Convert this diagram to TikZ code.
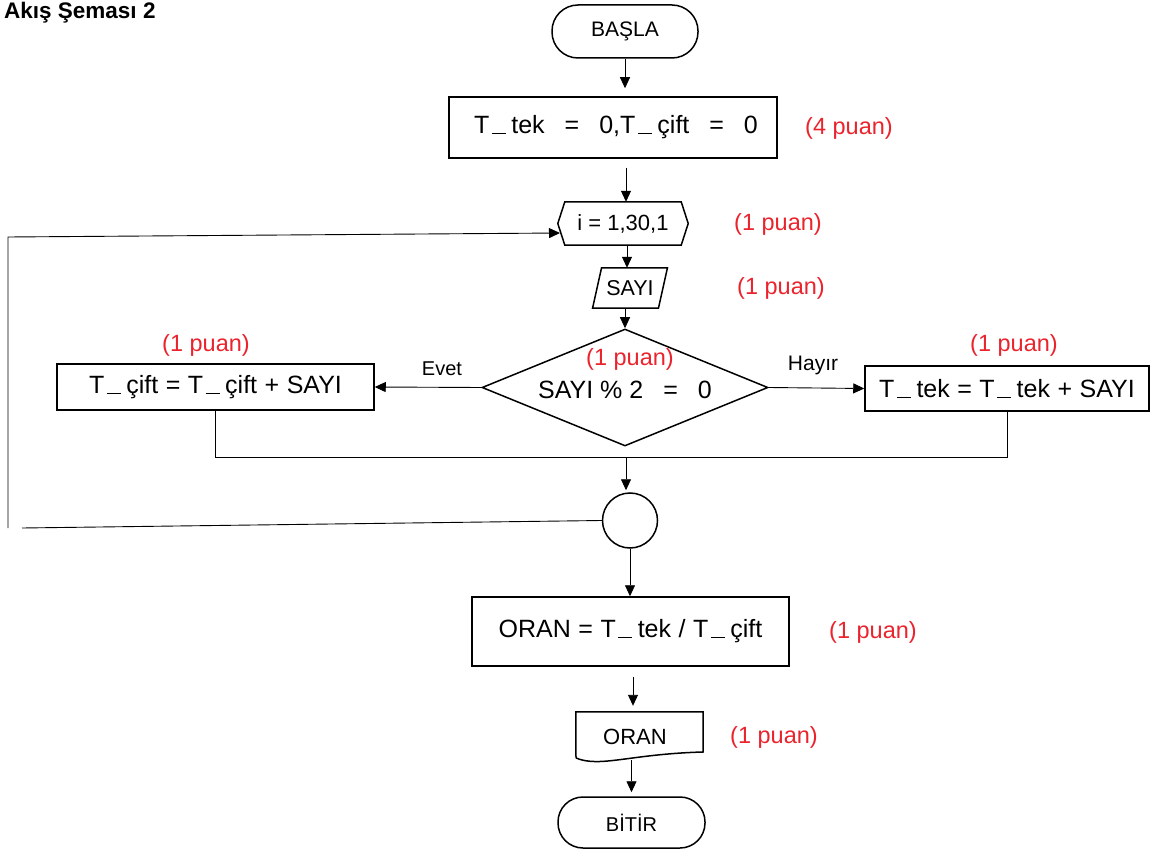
\documentclass[tikz,border=0pt]{standalone}
\usepackage{fontspec}
\setmainfont{Liberation Sans}
\usetikzlibrary{arrows.meta,shapes.geometric}
\definecolor{puan}{RGB}{235,35,45}
\newcommand\uscore{\hspace{.1em}\rule[-0.02em]{.56em}{.05em}\hspace{.22em}}
\newcommand\eqgap{\hspace{.3em}}
\begin{document}
\begin{tikzpicture}[x=1pt,y=-1pt,
  box/.style={draw, line width=1.5pt, inner sep=0pt},
  shapeline/.style={draw, line width=1.5pt, line join=miter},
  conn/.style={line width=0.9pt, -{Triangle[length=11pt,width=10pt]}},
  plain/.style={line width=0.9pt},
  pts/.style={text=puan, inner sep=0pt, font=\fontsize{23.5}{28}\selectfont},
  lbl/.style={inner sep=0pt, font=\fontsize{20}{24}\selectfont},
  eq/.style={font=\fontsize{25}{30}\selectfont},
]
\useasboundingbox (0,0) rectangle (1154,850);

% title
\node[anchor=base west, inner sep=0pt, font=\bfseries\fontsize{22.5}{27}\selectfont] (title) at (4,19) {Akış Şeması 2};

% start
\node[box, rounded corners=26pt, minimum width=146pt, minimum height=53pt, font=\fontsize{21}{25}\selectfont] (start) at (625,31.5) {BAŞLA};

% init
\node[box, minimum width=328pt, minimum height=61pt, eq] (init) at (613,127.5)
  {\hspace{6pt}T\uscore tek\hspace{.8em}=\hspace{.8em}0,T\uscore çift\hspace{.8em}=\hspace{.8em}0};
\node[pts] (p1) at (849,128) {(4 puan)};

% loop hexagon
\node[minimum width=130pt, minimum height=43pt, inner sep=0pt, font=\fontsize{22}{26}\selectfont] (loop) at (623,223.5) {i = 1,30,1};
\draw[shapeline] (loop.west) -- ([xshift=7pt]loop.north west) -- ([xshift=-7pt]loop.north east)
  -- (loop.east) -- ([xshift=-7pt]loop.south east) -- ([xshift=7pt]loop.south west) -- cycle;
\node[pts] (p2) at (778,224) {(1 puan)};

% input SAYI
\node[minimum width=65.5pt, minimum height=40pt, inner sep=0pt, font=\fontsize{21.5}{26}\selectfont] (sayi) at (630,288) {SAYI};
\draw[shapeline] ([xshift=4.5pt]sayi.north west) -- ([xshift=4.5pt]sayi.north east)
  -- ([xshift=-4.5pt]sayi.south east) -- ([xshift=-4.5pt]sayi.south west) -- cycle;
\node[pts] (p3) at (781,288) {(1 puan)};

% decision
\node[diamond, draw, line width=1.5pt, inner sep=0pt, minimum width=286pt, minimum height=117pt] (dia) at (625,387.5) {};
\node[pts] (p4) at (630,359) {(1 puan)};
\node[eq, inner sep=0pt] (dtext) at (625,390) {SAYI \% 2\hspace{.8em}=\hspace{.8em}0};

% branches
\node[box, minimum width=317pt, minimum height=46pt, eq] (even) at (215.5,387)
  {T\uscore çift\eqgap=\eqgap T\uscore çift\eqgap+\eqgap SAYI};
\node[pts] (p5) at (206,345) {(1 puan)};
\node[box, minimum width=284pt, minimum height=45pt, eq] (odd) at (1007,388.5)
  {T\uscore tek\eqgap=\eqgap T\uscore tek\eqgap+\eqgap SAYI};
\node[pts] (p6) at (1014,345) {(1 puan)};

\draw[conn] (dia.west) -- (even.east);
\node[lbl] (evet) at (442,369) {Evet};
\draw[conn] (dia.east) -- (odd.west);
\node[lbl, font=\fontsize{21}{25}\selectfont] (hayir) at (813,365) {Hayır};

% merge
\coordinate (mj) at (626,457.5);
\draw[plain] (even.south) |- (mj) -| (odd.south);

% connector circle
\node[circle, draw, line width=1.5pt, minimum size=55pt, inner sep=0pt] (circ) at (630,520.5) {};
\draw[conn, shorten >=2pt] (mj) -- (mj |- circ.north);

% loop back
\coordinate (lb) at (22,528);
\coordinate (lbot) at (8,528);
\coordinate (ltop) at (8,237);
\coordinate (hexin) at (560,233);
\draw[plain] (circ.west) -- (lb);
\draw[conn] (lbot) -- (ltop) -- (hexin);

% output
\node[box, minimum width=317pt, minimum height=69pt, eq] (oran) at (630.5,631.5)
  {ORAN\eqgap=\eqgap T\uscore tek\eqgap/\eqgap T\uscore çift};
\node[pts] (p7) at (873,632) {(1 puan)};

% document
\node[minimum width=127pt, minimum height=40pt, inner sep=0pt] (doc) at (639.5,732) {};
\node[inner sep=0pt, font=\fontsize{22}{26}\selectfont] (doctext) at (635,737) {ORAN};
\draw[shapeline] (576,758) -- (doc.north west) -- (doc.north east) -- (703,752)
  .. controls (630,754) and (600,768) .. (576,758);
\node[pts] (p8) at (774,737) {(1 puan)};

% end
\node[box, rounded corners=25pt, minimum width=147pt, minimum height=51pt, font=\fontsize{20}{24}\selectfont] (stop) at (631.5,822.5) {BİTİR};

% main connectors
\draw[conn, shorten >=8pt] (start.south) -- (start.south |- init.north);
\draw[conn, shorten <=9pt] (init.south -| 626,0) -- (626,0 |- loop.north);
\draw[conn] (loop.south -| 627,0) -- (627,0 |- sayi.north);
\draw[conn] (sayi.south -| dia.north) -- (dia.north);
\draw[conn] (circ.south) -- (circ.south |- oran.north);
\draw[conn, shorten <=10pt, shorten >=6pt] (oran.south -| 633,0) -- (633,0 |- doc.north);
\draw[conn, shorten <=8pt, shorten >=4pt] (doc.south -| stop.north) -- (stop.north);
\end{tikzpicture}
\end{document}
